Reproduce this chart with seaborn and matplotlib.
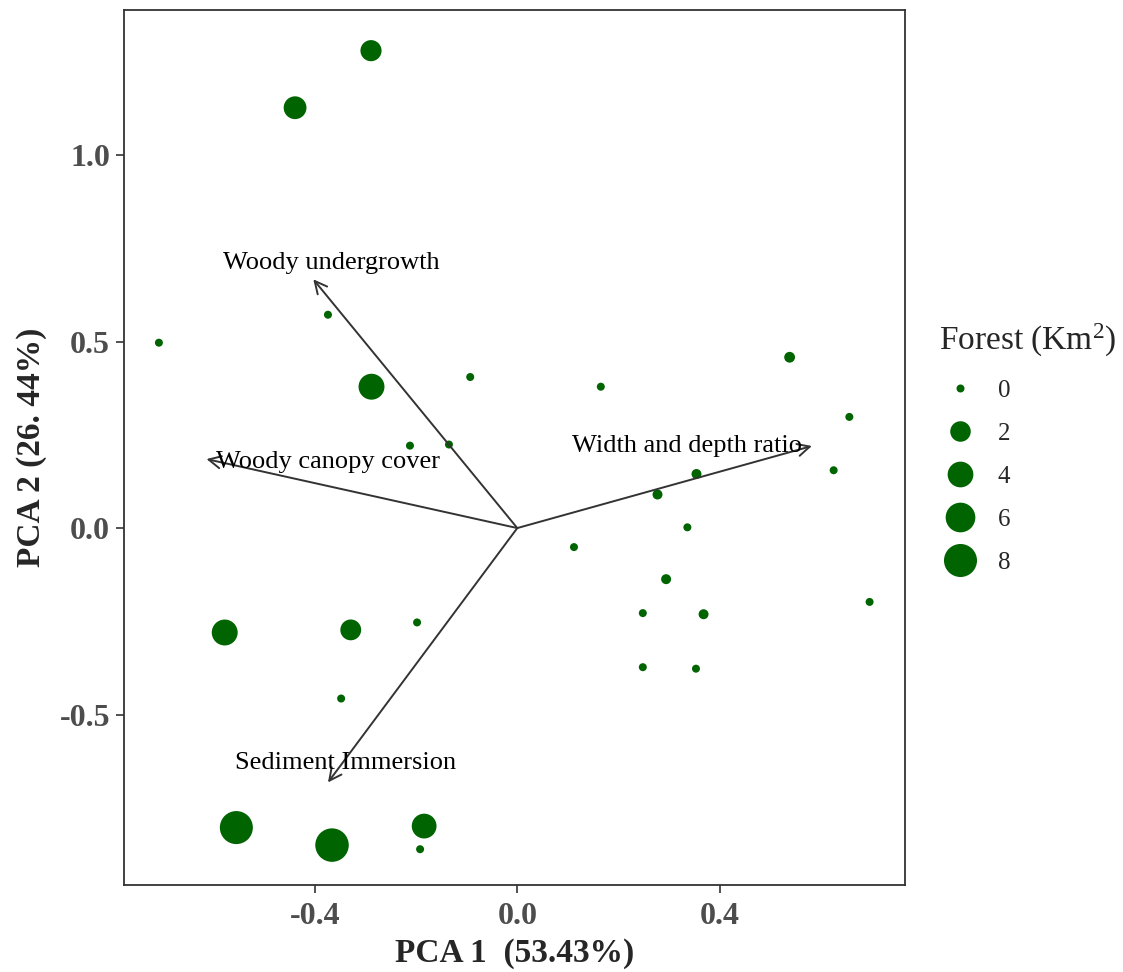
import numpy as np
import pandas as pd
import matplotlib
matplotlib.use("Agg")
import matplotlib.pyplot as plt
import seaborn as sns
from matplotlib.lines import Line2D

# site scores on the first two axes + forest area (Km2)
pc1 = [-0.289, -0.439, -0.708, -0.374, -0.288, -0.093, -0.212, -0.135, 0.165, 0.538,
       0.656, 0.625, 0.354, 0.277, 0.336, 0.112, 0.294, 0.248, 0.368, 0.696,
       0.248, 0.353, -0.578, -0.329, -0.198, -0.348, -0.555, -0.366, -0.184, -0.192]
pc2 = [1.280, 1.127, 0.497, 0.572, 0.379, 0.405, 0.221, 0.224, 0.379, 0.458,
       0.298, 0.155, 0.145, 0.090, 0.002, -0.051, -0.137, -0.228, -0.231, -0.198,
       -0.373, -0.377, -0.280, -0.273, -0.253, -0.457, -0.803, -0.850, -0.799, -0.861]
forest = [2.2, 2.8, 0, 0, 4.1, 0, 0, 0, 0, 0.1,
          0, 0, 0.05, 0.05, 0, 0, 0.05, 0, 0.05, 0,
          0, 0, 4.1, 2.1, 0, 0, 8.0, 8.3, 3.6, 0]

# variable loadings (arrows)
var_names = ["Woody undergrowth", "Woody canopy cover", "Width and depth ratio", "Sediment Immersion"]
load1 = [-0.403, -0.614, 0.582, -0.374]
load2 = [0.667, 0.185, 0.220, -0.682]

legend_vals = [0, 2, 4, 6, 8]

sns.set_style("white")
plt.rcParams['font.family'] = ['Liberation Serif', 'DejaVu Serif']
plt.rcParams['mathtext.fontset'] = 'custom'
plt.rcParams['mathtext.rm'] = 'Liberation Serif'
plt.rcParams['mathtext.default'] = 'regular'
plt.rcParams['axes.unicode_minus'] = False

green = "#006400"
dark = "#333333"

df = pd.DataFrame({"PC1": pc1, "PC2": pc2, "Forest": forest})
fmax = max(forest)


def dot_px(v):
    # diameter grows with sqrt of the value, like ggplot scale_size
    return 8 + 25.5 * np.sqrt(np.asarray(v, dtype=float) / fmax)


fig = plt.figure(figsize=(11.23, 9.72), dpi=100)
ax = fig.add_axes([0.1104, 0.0895, 0.6955, 0.9002])

sns.scatterplot(data=df, x="PC1", y="PC2", s=(dot_px(df["Forest"]) * 0.72) ** 2,
                color=green, edgecolor="none", linewidth=0, legend=False, ax=ax, zorder=3)

# label placement (offset in points, alignment)
lab_style = [((13, 12), "center"), ((7, -2), "left"), ((-7, 0), "right"), ((13, 14), "center")]
for name, a, b, (off, ha) in zip(var_names, load1, load2, lab_style):
    ax.annotate("", xy=(a, b), xytext=(0, 0),
                arrowprops=dict(arrowstyle="->", color=dark, lw=1.4,
                                shrinkA=0, shrinkB=0, mutation_scale=22), zorder=4)
    ax.annotate(name, xy=(a, b), xytext=off, textcoords="offset points",
                ha=ha, va="center", fontsize=19, color="black", zorder=5)

ax.set_xlim(-0.777, 0.766)
ax.set_ylim(-0.957, 1.389)
ax.set_xticks([-0.4, 0.0, 0.4])
ax.set_xticklabels(["-0.4", "0.0", "0.4"])
ax.set_yticks([-0.5, 0.0, 0.5, 1.0])
ax.set_yticklabels(["-0.5", "0.0", "0.5", "1.0"])
ax.tick_params(axis="both", length=6, width=1.2, color=dark, labelsize=23,
               labelcolor="#4D4D4D", pad=4, direction="out", bottom=True, left=True)
ax.tick_params(axis="x", pad=6)
for t in ax.get_xticklabels() + ax.get_yticklabels():
    t.set_fontweight("bold")
for sp in ax.spines.values():
    sp.set_color(dark)
    sp.set_linewidth(1.3)

ax.set_xlabel("PCA 1  (53.43%)", fontsize=24, fontweight="bold", labelpad=5)
ax.set_ylabel("PCA 2 (26. 44%)", fontsize=24, fontweight="bold", labelpad=9)

handles = [Line2D([], [], marker="o", linestyle="none", markersize=dot_px(v) * 0.72,
                  markerfacecolor=green, markeredgewidth=0) for v in legend_vals]
fig.legend(handles, [str(v) for v in legend_vals], title="Forest (Km$^{2}$)",
           loc="upper left", bbox_to_anchor=(939 / 1123, 1 - 322 / 972),
           frameon=False, fontsize=18, title_fontsize=24, alignment="left",
           labelspacing=0.82, handletextpad=0.65, borderpad=0, borderaxespad=0,
           handlelength=1.7)

fig.savefig("out.png", dpi=100)
